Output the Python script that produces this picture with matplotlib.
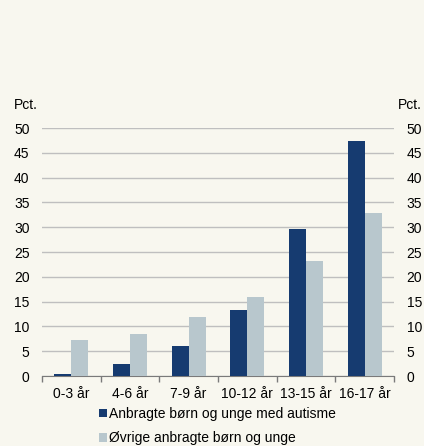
import numpy as np
import matplotlib.pyplot as plt
from matplotlib.patches import Patch

plt.rcParams['font.family'] = ['Liberation Sans', 'DejaVu Sans']

# Data
kategorier = ['0-3 år', '4-6 år', '7-9 år', '10-12 år', '13-15 år', '16-17 år']
autisme = [0.5, 2.5, 6.1, 13.4, 29.7, 47.4]
ovrige = [7.2, 8.5, 11.8, 16.0, 23.2, 32.8]
serie_navne = ['Anbragte børn og unge med autisme', 'Øvrige anbragte børn og unge']

bg = '#F8F7EF'
mork = '#163B70'
lys = '#B8C7CD'
fs = 10

W, H = 424, 446
fig = plt.figure(figsize=(W / 100, H / 100), dpi=100, facecolor=bg)

# akserne placeres i pixels
x0, x1 = 42, 394
y_top, y_bot = 128, 376
ax = fig.add_axes([x0 / W, 1 - y_bot / H, (x1 - x0) / W, (y_bot - y_top) / H])
ax.set_facecolor(bg)

x = np.arange(len(kategorier))
b = 0.29
ax.bar(x - b / 2, autisme, width=b, color=mork, zorder=3)
ax.bar(x + b / 2, ovrige, width=b, color=lys, zorder=3)

ax.set_xlim(-0.5, len(kategorier) - 0.5)
ax.set_ylim(0, 50)
ax.set_yticks(np.arange(0, 51, 5))
ax.yaxis.grid(True, color='#BFBFBF', lw=1)
ax.set_axisbelow(True)

for s in ['top', 'left', 'right']:
    ax.spines[s].set_visible(False)
ax.spines['bottom'].set_color('#7A7A7A')

ax.set_xticks(x)
ax.set_xticklabels(kategorier)
ax.set_xticks(np.arange(-0.5, len(kategorier), 1), minor=True)
ax.tick_params(axis='x', which='major', length=0, pad=8, labelsize=fs)
ax.tick_params(axis='x', which='minor', length=4, width=1, color='#7A7A7A')
ax.tick_params(axis='y', length=0, pad=9, labelsize=fs)

# højre akse med samme skala
ax2 = ax.twinx()
ax2.set_ylim(ax.get_ylim())
ax2.set_yticks(np.arange(0, 51, 5))
ax2.tick_params(axis='y', length=0, pad=9, labelsize=fs)
for s in ax2.spines.values():
    s.set_visible(False)

fig.text(14 / W, 1 - 105 / H, 'Pct.', fontsize=fs, va='center', ha='left')
fig.text(422 / W, 1 - 105 / H, 'Pct.', fontsize=fs, va='center', ha='right')

handles = [Patch(facecolor=mork), Patch(facecolor=lys)]
fig.legend(handles, serie_navne, loc='upper left', bbox_to_anchor=(99 / W, 1 - 407 / H),
           frameon=False, fontsize=fs, handlelength=0.55, handleheight=0.55,
           handletextpad=0.2, labelspacing=0.75, borderaxespad=0, borderpad=0)

fig.savefig('out.png', dpi=100, facecolor=bg)
